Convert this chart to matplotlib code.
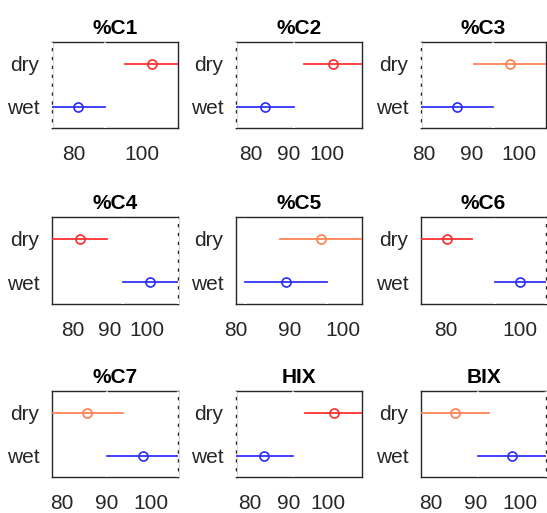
import matplotlib as mpl

mpl.use("Agg")
import matplotlib.pyplot as plt

# group means and shared half-width of the comparison intervals
panels = ["%C1", "%C2", "%C3", "%C4", "%C5", "%C6", "%C7", "HIX", "BIX"]
dry_mean = [103.0, 101.7, 98.2, 81.8, 95.9, 80.1, 85.7, 101.5, 85.3]
wet_mean = [81.3, 83.7, 86.9, 100.9, 89.3, 100.1, 98.1, 83.7, 98.2]
half_width = [7.8, 7.6, 7.6, 7.5, 7.7, 6.9, 8.0, 7.35, 7.6]
dry_color = ["red", "red", "coral", "red", "coral", "red", "coral", "red", "coral"]
xticks = [
    [80, 100],
    [80, 90, 100],
    [80, 90, 100],
    [80, 90, 100],
    [80, 90, 100],
    [80, 100],
    [80, 90, 100],
    [80, 90, 100],
    [80, 90, 100],
]
groups = ["wet", "dry"]

RED = "#ff2a2a"
CORAL = "#ff7f50"
BLUE = "#2a2aff"

plt.rcParams["font.family"] = ["Liberation Sans", "DejaVu Sans"]

fig = plt.figure(figsize=(5.47, 5.13), dpi=100)
W, H = 547, 513

# axes boxes in pixels: left, right (per column), top, bottom (per row)
cols = [(52, 178), (236, 362), (421, 546)]
rows = [(42, 128), (217, 304), (391, 477)]

for i, name in enumerate(panels):
    r, c = divmod(i, 3)
    l, rr = cols[c]
    t, b = rows[r]
    ax = fig.add_axes([l / W, 1 - b / H, (rr - l) / W, (b - t) / H])

    hw = half_width[i]
    means = [wet_mean[i], dry_mean[i]]
    colors = [BLUE, RED if dry_color[i] == "red" else CORAL]
    for y, (m, col) in enumerate(zip(means, colors), start=1):
        ax.plot([m - hw, m + hw], [y, y], color=col, lw=1.25, zorder=6)
        ax.plot(m, y, "o", mfc="none", mec=col, ms=6.5, mew=1.2, zorder=7)

    lo = min(m - hw for m in means)
    hi = max(m + hw for m in means)
    if name == "%C5":
        lo = 80.3
    ax.set_xlim(lo, hi)
    ax.set_ylim(0.5, 2.5)

    # bounds of the highlighted (wet) group
    for xb in (wet_mean[i] - hw, wet_mean[i] + hw):
        ax.axvline(xb, color="white", lw=1.6, ls=(0, (2.5, 1.5)),
                   zorder=5, clip_on=False)

    ax.set_yticks([1, 2])
    ax.set_yticklabels(groups)
    ax.set_xticks(xticks[i])
    ax.tick_params(length=0, labelsize=15, colors="#262626", pad=9)
    ax.tick_params(axis="x", pad=12)
    for s in ax.spines.values():
        s.set_color("#262626")
        s.set_linewidth(1.0)
    ax.set_title(name, fontsize=15, fontweight="bold", pad=6)

fig.savefig("out.png", dpi=100)
